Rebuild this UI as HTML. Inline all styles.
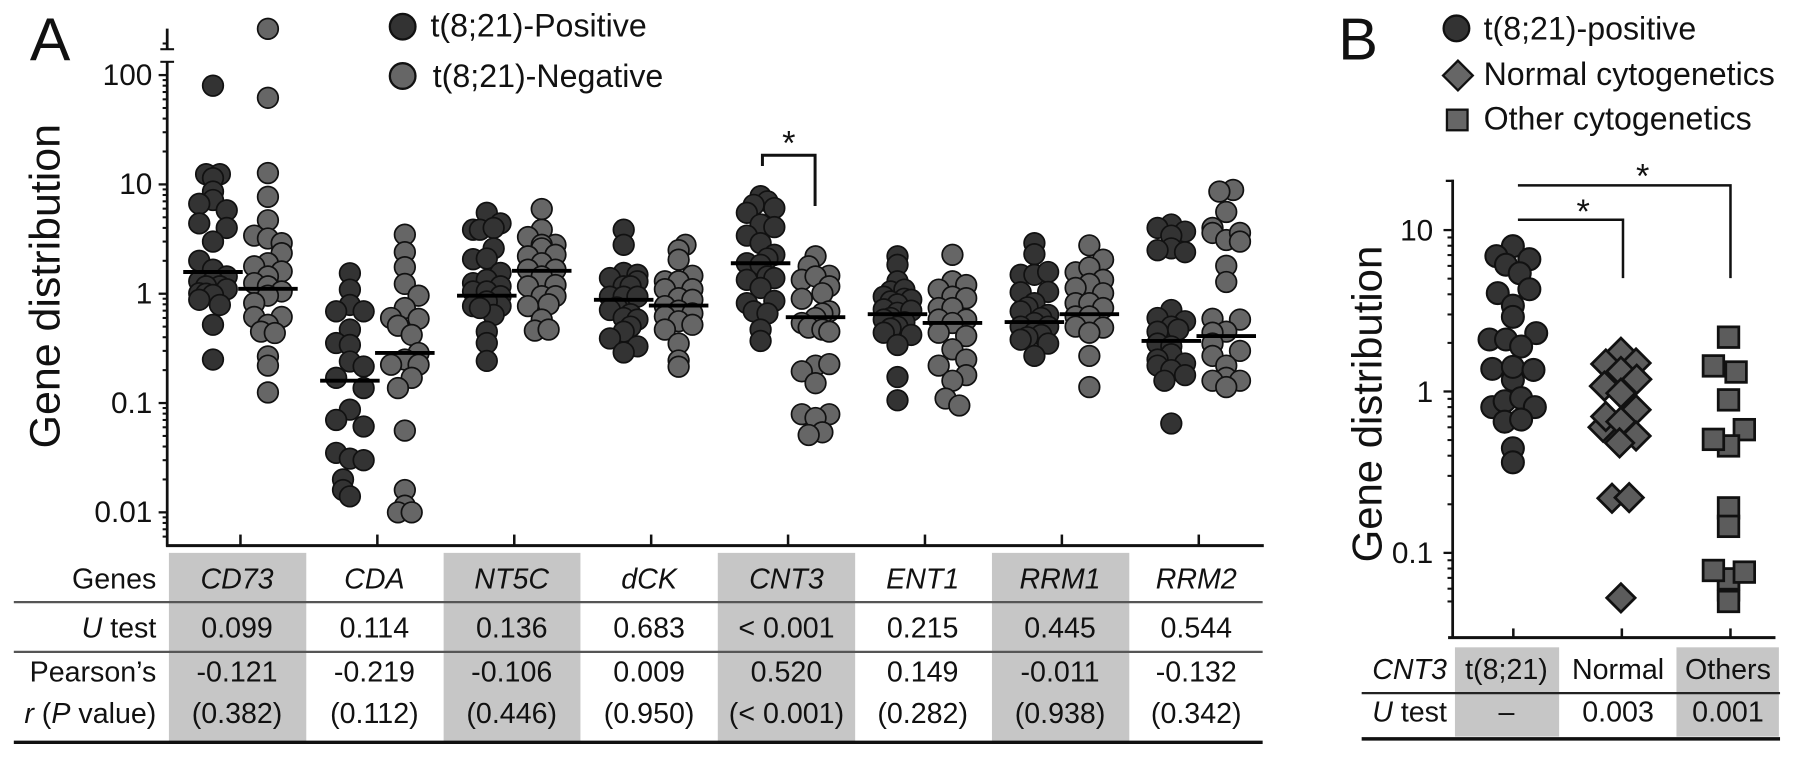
<!DOCTYPE html>
<html lang="en">
<head>
<meta charset="utf-8">
<title>Gene distribution chart</title>
<style>
html,body{margin:0;padding:0;background:#fff;width:1795px;height:758px;overflow:hidden}
svg{display:block}
text{font-family:"Liberation Sans",sans-serif;fill:#111}
.t{font-size:25px;text-anchor:middle}
.l{font-size:25px;text-anchor:end}
.i{font-style:italic}
.leg{font-size:28.1px}
</style>
</head>
<body>
<svg id="fig" xmlns="http://www.w3.org/2000/svg" width="1795" height="758" viewBox="0 0 1568 662.2">
<g id="tableA">
<rect x="147.5" y="483" width="120" height="165" fill="#c6c6c6"/>
<rect x="387.5" y="483" width="119.5" height="165" fill="#c6c6c6"/>
<rect x="627" y="483" width="120" height="165" fill="#c6c6c6"/>
<rect x="866.5" y="483" width="120" height="165" fill="#c6c6c6"/>
<line x1="12" x2="1103" y1="526" y2="526" stroke="#555" stroke-width="2"/>
<line x1="12" x2="1103" y1="569.5" y2="569.5" stroke="#555" stroke-width="2"/>
<line x1="12" x2="1103" y1="648.5" y2="648.5" stroke="#111" stroke-width="3"/>
<text class="l" x="136.5" y="514">Genes</text>
<text class="l" x="136.5" y="557"><tspan class="i">U</tspan> test</text>
<text class="l" x="136.5" y="595.5">Pearson’s</text>
<text class="l" x="136.5" y="631.5"><tspan class="i">r</tspan> (<tspan class="i">P</tspan> value)</text>
<text class="t i" x="207" y="514">CD73</text>
<text class="t i" x="327" y="514">CDA</text>
<text class="t i" x="447" y="514">NT5C</text>
<text class="t i" x="567" y="514">dCK</text>
<text class="t i" x="687" y="514">CNT3</text>
<text class="t i" x="806" y="514">ENT1</text>
<text class="t i" x="926" y="514">RRM1</text>
<text class="t i" x="1045" y="514">RRM2</text>
<text class="t" x="207" y="557">0.099</text>
<text class="t" x="327" y="557">0.114</text>
<text class="t" x="447" y="557">0.136</text>
<text class="t" x="567" y="557">0.683</text>
<text class="t" x="687" y="557">&lt; 0.001</text>
<text class="t" x="806" y="557">0.215</text>
<text class="t" x="926" y="557">0.445</text>
<text class="t" x="1045" y="557">0.544</text>
<text class="t" x="207" y="595.5">-0.121</text>
<text class="t" x="327" y="595.5">-0.219</text>
<text class="t" x="447" y="595.5">-0.106</text>
<text class="t" x="567" y="595.5">0.009</text>
<text class="t" x="687" y="595.5">0.520</text>
<text class="t" x="806" y="595.5">0.149</text>
<text class="t" x="926" y="595.5">-0.011</text>
<text class="t" x="1045" y="595.5">-0.132</text>
<text class="t" x="207" y="631.5">(0.382)</text>
<text class="t" x="327" y="631.5">(0.112)</text>
<text class="t" x="447" y="631.5">(0.446)</text>
<text class="t" x="567" y="631.5">(0.950)</text>
<text class="t" x="687" y="631.5">(&lt; 0.001)</text>
<text class="t" x="806" y="631.5">(0.282)</text>
<text class="t" x="926" y="631.5">(0.938)</text>
<text class="t" x="1045" y="631.5">(0.342)</text>
</g>
<g id="tableB">
<rect x="1271" y="565.5" width="91" height="78" fill="#c6c6c6"/>
<rect x="1464.5" y="565.5" width="89.5" height="78" fill="#c6c6c6"/>
<line x1="1189.5" x2="1555" y1="605.5" y2="605.5" stroke="#222" stroke-width="2"/>
<line x1="1189.5" x2="1555" y1="645.5" y2="645.5" stroke="#111" stroke-width="3"/>
<text class="l i" x="1264" y="593">CNT3</text>
<text class="l" x="1264" y="630.5"><tspan class="i">U</tspan> test</text>
<text class="t" x="1316" y="593">t(8;21)</text>
<text class="t" x="1413.5" y="593">Normal</text>
<text class="t" x="1509.5" y="593">Others</text>
<text class="t" x="1316" y="630.5">–</text>
<text class="t" x="1413.5" y="630.5">0.003</text>
<text class="t" x="1509.5" y="630.5">0.001</text>
</g>
<text x="26" y="52.5" font-size="53">A</text>
<text x="1169" y="52" font-size="52">B</text>
<text transform="translate(52,250) rotate(-90)" text-anchor="middle" font-size="37.5">Gene distribution</text>
<text transform="translate(1207,353) rotate(-90)" text-anchor="middle" font-size="36.6">Gene distribution</text>
<g>
<circle cx="351.7" cy="23.3" r="11.2" fill="#333" stroke="#111" stroke-width="2"/>
<text class="leg" x="376" y="32">t(8;21)-Positive</text>
<circle cx="351.7" cy="66.4" r="11.2" fill="#666" stroke="#111" stroke-width="2"/>
<text class="leg" x="378" y="76">t(8;21)-Negative</text>
</g>
<g>
<circle cx="1272.3" cy="24.8" r="11.2" fill="#333" stroke="#111" stroke-width="2"/>
<text class="leg" x="1296" y="34.4">t(8;21)-positive</text>
<polygon points="1260.6,66 1273.6,53 1286.6,66 1273.6,79" fill="#666" stroke="#111" stroke-width="2"/>
<text class="leg" x="1296" y="74.2">Normal cytogenetics</text>
<rect x="1264" y="95.8" width="18" height="18" fill="#666" stroke="#111" stroke-width="2"/>
<text class="leg" x="1296" y="113">Other cytogenetics</text>
</g>
<g id="marksA"></g>
<g id="marksB"></g>
<g id="axes"></g>
<path d="M666 145V135.6H712V180" fill="none" stroke="#111" stroke-width="2.6"/>
<text x="689" y="135" text-anchor="middle" font-size="30">*</text>
<path d="M1326 161.9H1511.7V243" fill="none" stroke="#111" stroke-width="2.2"/>
<path d="M1326 192H1417.8V243" fill="none" stroke="#111" stroke-width="2.2"/>
<text x="1435" y="164" text-anchor="middle" font-size="30">*</text>
<text x="1383" y="195" text-anchor="middle" font-size="30">*</text>
</svg>
<script>
// Panel A categories and axis ticks
const genes = ['CD73','CDA','NT5C','dCK','CNT3','ENT1','RRM1','RRM2'];
const majorTicksA = [100,10,1,0.1,0.01];
const tickLabelsA = ['100','10','1','0.1','0.01'];
const majorTicksB = [10,1,0.1];
const tickLabelsB = ['10','1','0.1'];
const groupsB = ['t(8;21)','Normal','Others'];
// Medians per gene
const medianPositive = [1.58,0.16,0.96,0.88,1.9,0.65,0.55,0.37];
const medianNegative = [1.11,0.287,1.62,0.78,0.61,0.54,0.65,0.41];
// Panel A values (v) with swarm column (s) per group
const cd73PosV = [80,12.4,12.4,11.4,8.6,7.2,6.65,5.8,4.4,4,3,2,1.66,1.44,1.3,1.3,1.17,1.17,1.1,1.01,1,0.975,0.88,0.79,0.52,0.25];
const cd73PosS = [0,-1,1,0,0,0,-2,2,-2,2,0,-2,0,2,-2,0,1,-1,2,-2,-1,0,-2,1,0,0];
const cd73NegV = [265,62,12.7,7.7,4.7,3.4,3.2,2.9,2.35,1.9,1.78,1.6,1.44,1.25,1.17,1.05,0.96,0.82,0.613,0.613,0.52,0.45,0.437,0.267,0.22,0.125];
const cd73NegS = [0,0,0,0,0,-2,0,2,2,0,-2,2,0,-2,0,2,0,-2,-2,2,0,-1,1,0,0,0];
const cdaPosV = [1.54,1.09,0.79,0.69,0.69,0.47,0.354,0.34,0.24,0.216,0.17,0.137,0.087,0.07,0.061,0.035,0.031,0.03,0.02,0.016,0.014];
const cdaPosS = [0,0,0,-2,2,0,-2,0,0,2,-2,2,0,-2,2,-2,0,2,-1,-1,0];
const cdaNegV = [3.47,2.4,1.75,1.23,0.96,0.74,0.6,0.59,0.51,0.42,0.287,0.25,0.224,0.224,0.17,0.137,0.056,0.016,0.0115,0.01,0.01];
const cdaNegS = [0,0,0,0,2,0,-2,2,-1,1,2,0,-2,2,1,-1,0,0,0,-1,1];
const nt5cPosV = [5.5,4.4,3.85,3.85,4,2.6,2.07,2.1,1.55,1.25,1.34,1.17,1.05,1.05,0.95,0.77,0.77,0.85,0.64,0.74,0.45,0.354,0.243];
const nt5cPosS = [0,2,-2,-1,1,1,-2,0,2,-2,0,2,-2,0,2,-2,2,0,1,-1,0,0,0];
const nt5cNegV = [5.95,3.85,3.3,2.8,2.8,2.6,2.2,2.27,1.9,1.66,1.66,1.44,1.17,1.2,0.95,0.77,0.95,0.8,0.58,0.46,0.47];
const nt5cNegS = [0,0,-2,2,0,0,-2,2,0,-2,2,0,-2,2,0,-2,2,1,0,-1,1];
const dckPosV = [3.85,2.8,1.55,1.39,1.49,1.3,1.17,1.17,0.94,0.94,0.94,0.75,0.71,0.65,0.6,0.58,0.5,0.45,0.39,0.33,0.29];
const dckPosS = [0,0,0,-2,2,2,0,1,-2,0,2,-1,-2,1,0,2,1,0,-2,2,0];
const dckNegV = [2.8,2.5,2.05,1.3,1.46,1.3,1.1,1.1,0.91,0.88,0.77,0.7,0.66,0.62,0.56,0.52,0.47,0.35,0.245,0.215];
const dckNegS = [1,0,0,-2,2,0,-2,2,0,2,-2,0,2,-2,0,2,-2,0,0,0];
const cnt3PosV = [7.8,7,6.5,6.07,5.5,4.3,4.07,3.4,2.9,2.27,2.1,1.9,1.84,1.44,1.39,1.34,1.13,0.86,0.82,0.69,0.66,0.47,0.37];
const cnt3PosS = [0,1,-1,2,-2,0,2,-2,0,2,1,-2,0,1,2,-2,0,2,-2,-1,1,0,0];
const cnt3NegV = [2.2,1.78,1.46,1.34,1.44,1.17,1.01,0.9,0.69,0.66,0.6,0.54,0.49,0.47,0.45,0.22,0.227,0.195,0.152,0.079,0.079,0.073,0.054,0.051];
const cnt3NegS = [0,-1,2,-2,0,2,1,-2,2,1,0,-2,-1,1,2,0,2,-2,0,-2,2,0,1,-1];
const ent1PosV = [2.2,1.84,1.3,1.05,1.09,0.94,0.9,0.88,0.85,0.8,0.72,0.67,0.7,0.6,0.58,0.55,0.5,0.48,0.44,0.42,0.34,0.173,0.106];
const ent1PosS = [0,0,0,-1,1,-2,1,2,-1,0,-2,0,2,-1,-2,1,0,-1,-2,2,0,0,0];
const ent1NegV = [2.27,1.3,1.2,1.09,0.94,0.91,0.74,0.74,0.58,0.58,0.54,0.44,0.41,0.31,0.25,0.22,0.18,0.16,0.11,0.095];
const ent1NegS = [0,0,2,-2,0,2,-2,0,-2,2,0,-2,2,0,2,-2,2,0,-1,1];
const rrm1PosV = [2.9,2.3,1.49,1.49,1.58,1.03,1.04,0.82,0.75,0.69,0.64,0.6,0.54,0.5,0.5,0.44,0.42,0.4,0.38,0.35,0.27];
const rrm1PosS = [0,0,-2,0,2,-2,2,0,-1,-2,2,1,0,-2,2,0,1,-1,-2,2,0];
const rrm1NegV = [2.77,2.05,1.57,1.74,1.34,1.23,1.13,1.01,0.82,0.82,0.74,0.62,0.62,0.5,0.49,0.44,0.27,0.14];
const rrm1NegS = [0,2,-2,0,2,0,-2,2,-2,0,2,-2,0,-2,2,0,0,0];
const rrm2PosV = [4.3,4,3.7,3.4,2.6,2.5,2.4,0.71,0.6,0.56,0.5,0.47,0.45,0.35,0.33,0.28,0.25,0.23,0.22,0.2,0.18,0.16,0.065];
const rrm2PosS = [0,-2,2,0,0,-2,2,0,-2,2,0,1,-2,-2,0,0,-2,2,-2,0,2,-1,0];
const rrm2NegV = [8.9,8.6,5.6,4,3.6,3.1,3.6,3,1.8,1.28,0.59,0.58,0.45,0.44,0.35,0.3,0.27,0.22,0.17,0.16,0.16,0.14];
const rrm2NegS = [1,-1,0,-2,-2,0,2,2,0,0,-2,2,0,-2,-2,2,-2,0,0,-2,2,0];
// Panel B values with swarm column
const bPosV = [7.95,6.9,6.6,6.1,5.4,4.3,4.07,3.4,2.9,2.3,2.1,2.1,1.9,1.38,1.18,1.42,1.36,0.8,0.87,0.91,0.8,0.65,0.67,0.445,0.364];
const bPosS = [0,-2.4,2.4,-1,1,2.4,-2.2,0,0,3.4,-3.4,-1,1.2,-3,0,0,3,-3,-1.2,1.2,3.2,-1.2,1.2,0,0];
const bNormalV = [1.75,1.48,1.5,1.33,1.19,1.08,0.976,0.77,0.6,0.7,0.65,0.53,0.48,0.218,0.22,0.0526];
const bNormalS = [0,-2.2,2.2,0,2.3,-2.4,0,2.2,-2.6,-2.2,0,2.2,-0.2,-1.3,1.2,0];
const bOtherV = [2.17,1.44,1.32,0.887,0.58,0.46,0.505,0.19,0.146,0.059,0.069,0.0778,0.076,0.05];
const bOtherS = [0,-2.2,1.1,0,2.3,0,-2.2,0,0,0,0,-2.2,2.3,0];

const NS = 'http://www.w3.org/2000/svg';
function yA(v){ return 256.6 - 95.5 * Math.log10(v); }
function yB(v){ return 342 - 141 * Math.log10(v); }
function centerA(i){ return 210 + i * 119.6; }
function slotX(c, s){ return c + s * 6; }
function mk(tag, parent){ const e = document.createElementNS(NS, tag); parent.appendChild(e); return e; }
function attrs(e, o){ for (const k in o) e.setAttribute(k, o[k]); return e; }

const marksA = document.getElementById('marksA');
const marksB = document.getElementById('marksB');
const axes = document.getElementById('axes');

const seriesA = [
  [cd73PosV,cd73PosS,cd73NegV,cd73NegS],[cdaPosV,cdaPosS,cdaNegV,cdaNegS],
  [nt5cPosV,nt5cPosS,nt5cNegV,nt5cNegS],[dckPosV,dckPosS,dckNegV,dckNegS],
  [cnt3PosV,cnt3PosS,cnt3NegV,cnt3NegS],[ent1PosV,ent1PosS,ent1NegV,ent1NegS],
  [rrm1PosV,rrm1PosS,rrm1NegV,rrm1NegS],[rrm2PosV,rrm2PosS,rrm2NegV,rrm2NegS]
];
genes.forEach(function(g, i){
  const c = centerA(i);
  [[0, -24, '#333'], [2, 24, '#666']].forEach(function(cfg){
    const vals = seriesA[i][cfg[0]], slots = seriesA[i][cfg[0] + 1], cx = c + cfg[1];
    vals.forEach(function(v, j){
      const dot = attrs(mk('circle', marksA), {cx: slotX(cx, slots[j]), cy: yA(v), r: 9, fill: cfg[2], stroke: '#111', 'stroke-width': 1.5});
      
      
    });
  });
});
// medians drawn above every dot
genes.forEach(function(g, i){
  const c = centerA(i);
  [[-24, medianPositive[i]], [24, medianNegative[i]]].forEach(function(m){
    const ln = attrs(mk('line', marksA), {x1: c + m[0] - 26, x2: c + m[0] + 26, y1: yA(m[1]), y2: yA(m[1]), stroke: '#000', 'stroke-width': 3.4});
    
    
  });
});

bPosV.forEach(function(v, j){
  const dot = attrs(mk('circle', marksB), {cx: slotX(1321.6, bPosS[j]), cy: yB(v), r: 9.6, fill: '#333', stroke: '#111', 'stroke-width': 1.8});
  
  
});
bNormalV.forEach(function(v, j){
  const x = slotX(1416, bNormalS[j]), y = yB(v), h = 12.4;
  const d = attrs(mk('polygon', marksB), {points: (x-h)+','+y+' '+x+','+(y-h)+' '+(x+h)+','+y+' '+x+','+(y+h), fill: '#5c5c5c', stroke: '#111', 'stroke-width': 2.4});
  
  
});
bOtherV.forEach(function(v, j){
  const x = slotX(1510, bOtherS[j]), y = yB(v), h = 9;
  const d = attrs(mk('rect', marksB), {x: x-h, y: y-h, width: 2*h, height: 2*h, fill: '#5c5c5c', stroke: '#111', 'stroke-width': 2.4});
  
  
});

function line(x1, y1, x2, y2, w, name){
  const l = attrs(mk('line', axes), {x1: x1, y1: y1, x2: x2, y2: y2, stroke: '#111', 'stroke-width': w});
  
  
  return l;
}
function tickLabel(x, y, s){
  const t = attrs(mk('text', axes), {x: x, y: y, 'text-anchor': 'end', 'font-size': 26});
  t.textContent = s;
  
  
}
// Panel A axes
line(146, 54, 146, 477.5, 2.4, 'y-axis-a');
line(146, 25, 146, 43.5, 2.4, 'y-axis-a-break');
line(140, 43, 152, 43, 1.8, 'y-axis-break-lower-cap');
line(140, 54, 152, 54, 1.8, 'y-axis-break-upper-cap');
line(142, 38, 146, 38, 1.8, 'y-axis-break-tick');
line(145, 476.7, 1104, 476.7, 2.6, 'x-axis-a');
majorTicksA.forEach(function(v, i){
  line(138.5, yA(v), 146, yA(v), 2, 'y-major-tick');
  tickLabel(133, yA(v) + 8.5, tickLabelsA[i]);
  for (let m = 2; m < 10; m++) {
    const mv = v / 10 * m;
    if (mv >= 0.0058) line(142, yA(mv), 146, yA(mv), 1.8, 'y-minor-tick');
  }
});
genes.forEach(function(g, i){ line(centerA(i), 467, centerA(i), 476.7, 2.2, 'x-tick'); });
// Panel B axes
line(1269, 157, 1269, 558, 2.4, 'y-axis-b');
line(1265, 557, 1551, 557, 2.6, 'x-axis-b');
line(1263, 158, 1270, 158, 2, 'y-axis-b-top-cap');
majorTicksB.forEach(function(v, i){
  line(1261, yB(v), 1269, yB(v), 2, 'y-major-tick');
  tickLabel(1252, yB(v) + 9, tickLabelsB[i]);
  for (let m = 2; m < 10; m++) {
    const mv = v / 10 * m;
    if (mv >= 0.05) line(1264.5, yB(mv), 1269, yB(mv), 1.8, 'y-minor-tick');
  }
});
[1322, 1416.8, 1511.7].forEach(function(x){ line(x, 549, x, 557, 2.2, 'x-tick'); });
</script>
</body>
</html>
